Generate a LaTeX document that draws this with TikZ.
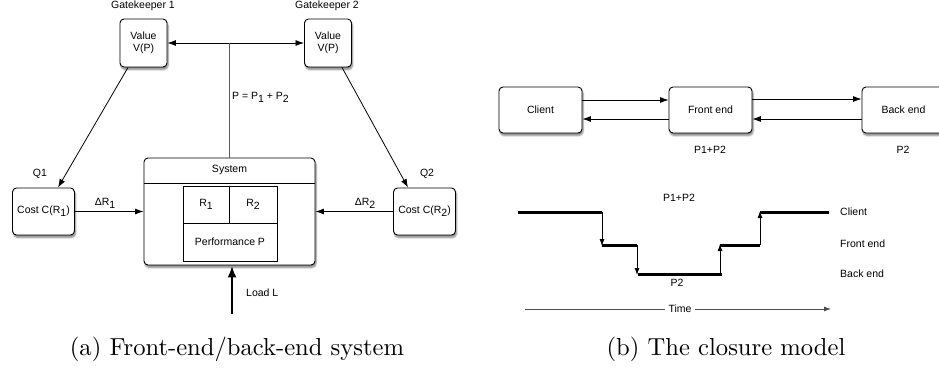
\documentclass[tikz,border=0pt]{standalone}
\usepackage{fontspec}
\newfontfamily\dg{Liberation Sans}
\newfontfamily\capfont{lmroman10-regular}[Extension=.otf]
\usetikzlibrary{arrows.meta,shadows.blur,calc}
\newcommand\sbx[1]{\raisebox{-3.2pt}{#1}}
\begin{document}
\begin{tikzpicture}[x=1pt,y=-1pt,
  every node/.style={font=\dg\fontsize{10.5}{12.5}\selectfont, inner sep=0pt},
  rbox/.style={draw, rounded corners=4pt, fill=white, line width=0.9pt, align=center,
    blur shadow={shadow xshift=1pt, shadow yshift=-2.5pt, shadow blur steps=6, shadow opacity=50}},
  sbox/.style={draw, line width=0.9pt, fill=white},
  ar/.style={-{Latex[length=8.5pt,width=6pt]}, line width=0.8pt},
  dar/.style={{Latex[length=8.5pt,width=6pt]}-{Latex[length=8.5pt,width=6pt]}, line width=0.8pt},
  thickar/.style={-{Latex[length=12pt,width=9pt]}, line width=2.6pt},
  lvl/.style={line width=3pt},
  sar/.style={-{Latex[length=7pt,width=5pt]}, line width=0.8pt},
  gline/.style={line width=0.9pt, black!65},
  captxt/.style={font=\capfont\fontsize{24.6}{30}\selectfont, anchor=base}]
\useasboundingbox (0,0) rectangle (939,367);
\clip (0,0) rectangle (939,367);

% ---------------- (a) ----------------
\node (gk1) at (143,6) {Gatekeeper 1};
\node (gk2) at (327,6) {Gatekeeper 2};
\node[rbox, minimum width=47pt, minimum height=48pt] (v1) at (143.5,43) {Value\\V(P)};
\node[rbox, minimum width=47pt, minimum height=48pt] (v2) at (328,43) {Value\\V(P)};

\node[rbox, minimum width=62pt, minimum height=47pt] (c1) at (43.5,211.5) {Cost C(R\sbx{1})};
\node[rbox, minimum width=62pt, minimum height=47pt] (c2) at (424.5,211.5) {Cost C(R\sbx{2})};
\node (q1) at (40,174) {Q1};
\node (q2) at (427,174) {Q2};

\node[rbox, minimum width=171pt, minimum height=107pt] (sys) at (229.5,211.5) {};
\node (systxt) at (229.5,170) {System};
\coordinate (hdr) at (0,183);
\draw[line width=0.9pt] (sys.west |- hdr) -- (sys.east |- hdr);

\node[sbox, minimum width=46pt, minimum height=37pt] (r1) at (206,204.5) {R\sbx{1}};
\node[sbox, minimum width=48pt, minimum height=37pt] (r2) at (253,204.5) {R\sbx{2}};
\node[sbox, minimum width=94pt, minimum height=38pt] (perf) at (230,242) {Performance P};

\draw[dar] (v1.east) -- (v2.west);
\coordinate (jn) at (229,43);
\draw[gline] (jn) -- (jn |- sys.north);
\node[anchor=west] (plab) at (232,97) {P = P\sbx{1} + P\sbx{2}};

\draw[ar] ([xshift=-15.5pt]v1.south) -- ([xshift=14.5pt]c1.north);
\draw[ar] ([xshift=14pt]v2.south) -- ([xshift=-16.5pt]c2.north);

\draw[ar] (c1.east) -- (sys.west);
\node (dr1) at (105,203) {ΔR\sbx{1}};
\draw[ar] (c2.west) -- (sys.east);
\node (dr2) at (365,203) {ΔR\sbx{2}};

\coordinate (ld) at (232,314);
\draw[thickar] (ld) -- (ld |- sys.south);
\node[anchor=west] (load) at (246,293) {Load L};

% ---------------- (b) ----------------
\node[rbox, minimum width=83pt, minimum height=46pt] (client) at (540.5,110) {Client};
\node[rbox, minimum width=83pt, minimum height=46pt] (front) at (710.5,110) {Front end};
\node[rbox, minimum width=83pt, minimum height=46pt] (back) at (903.5,110) {Back end};

\draw[ar] ([yshift=10pt]client.east) -- ([yshift=10pt]front.west);
\draw[ar] ([yshift=-9pt]front.west) -- ([yshift=-9pt]client.east);
\draw[ar] ([yshift=11pt]front.east) -- ([yshift=11pt]back.west);
\draw[ar] ([yshift=-9pt]back.west) -- ([yshift=-9pt]front.east);

\node (pf) at (710,150) {P1+P2};
\node (pb) at (903,150) {P2};

% timeline
\draw[lvl] (518,212) -- (602,212);
\draw[sar] (602,212) -- (602,246);
\draw[lvl] (602,245) -- (637,245);
\draw[sar] (637,245) -- (637,275);
\draw[lvl] (638,274) -- (722,274);
\draw[sar] (720,274) -- (720,244);
\draw[lvl] (720,245) -- (760,245);
\draw[sar] (760,245) -- (760,211);
\draw[lvl] (760,212) -- (829,212);

\node[anchor=west] (lc) at (840,212) {Client};
\node[anchor=west] (lf) at (840,244) {Front end};
\node[anchor=west] (lb) at (840,274) {Back end};
\node (tp12) at (679,198) {P1+P2};
\node (tp2) at (677,283) {P2};

\coordinate (t0) at (525,309);
\coordinate (t1) at (831,309);
\draw[sar, black!70] (t0) -- (t1);
\node[fill=white, inner xsep=4pt, inner ysep=2pt] (time) at (680,309) {Time};

% captions
\node[captxt] (capa) at (237,355) {(a) Front-end/back-end system};
\node[captxt] (capb) at (726,355) {(b) The closure model};
\end{tikzpicture}
\end{document}
